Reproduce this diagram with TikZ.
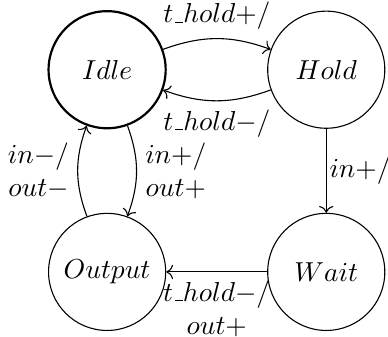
\documentclass[tikz,border=0pt]{standalone}
\usepackage{amsmath,amssymb}
\usepackage{tikz}
\usetikzlibrary{arrows.meta,positioning,shapes.geometric}
\newcommand{\us}{\mathord{\kern.06em\vbox{\hrule width.3em}}}

\begin{document}
\begin{tikzpicture}[x=1cm,y=1cm,
  state/.style={draw,circle,minimum size=1.5cm,inner sep=0pt},
  start/.style={state,thick}, edge/.style={->},
  lab/.style={align=center,inner sep=3pt}]
  \useasboundingbox (0,0) rectangle (4.97,4.31);
  \node[start] (idle) at (1.372,3.417) {$Idle$}; \node[state] (hold) at
  (4.179,3.417) {$Hold$}; \node[state] (output) at (1.372,0.827)
  {$Output$}; \node[state] (wait) at (4.179,0.827) {$Wait$};
  \draw[edge] (idle) to[bend left=20] node[lab,above] {$t\us hold{+}/$}
  (hold); \draw[edge] (hold) to[bend left=20] node[lab,below]
  {$t\us hold{-}/$} (idle); \draw[edge] (idle) to[bend left=20]
  node[lab,right] {$in{+}/$\\$out{+}$} (output); \draw[edge] (output)
  to[bend left=20] node[lab,left] {$in{-}/$\\$out{-}$} (idle);
  \draw[edge] (hold) -- node[lab,right,inner sep=1pt] {$in{+}/$} (wait);
  \draw[edge] (wait) -- node[lab,below] {$t\us hold{-}/$\\$out{+}$}
  (output);
\end{tikzpicture}
\end{document}
